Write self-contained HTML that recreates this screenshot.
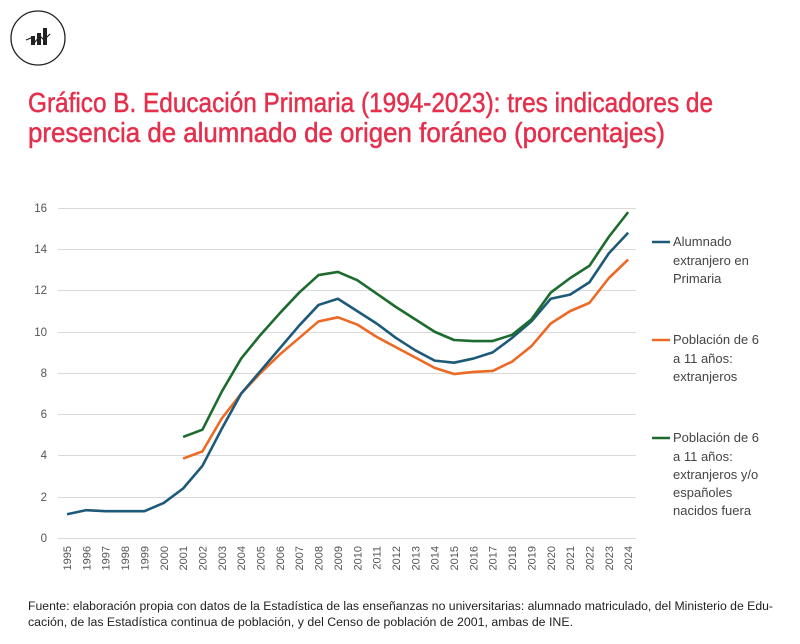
<!DOCTYPE html>
<html><head><meta charset="utf-8"><style>
body{margin:0;background:#fff;width:800px;height:639px;overflow:hidden;font-family:"Liberation Sans",sans-serif}
</style></head><body>
<svg width="800" height="639" viewBox="0 0 800 639" xmlns="http://www.w3.org/2000/svg" font-family="Liberation Sans, sans-serif">
<circle cx="38" cy="38" r="27" fill="none" stroke="#222" stroke-width="1.3"/>
<g fill="#222"><rect x="31" y="36" width="4" height="9"/><rect x="37" y="33" width="4" height="12"/><rect x="43" y="28" width="4" height="17"/></g>
<polyline points="26,40 31,38 35,42 40,36 44,40 50,34" fill="none" stroke="#222" stroke-width="1.2"/>
<g fill="#e5304d" stroke="#e5304d" stroke-width="0.5">
<text x="28" y="112" font-size="28" textLength="685" lengthAdjust="spacingAndGlyphs">Gráfico B. Educación Primaria (1994-2023): tres indicadores de</text>
<text x="28" y="142" font-size="28" textLength="637" lengthAdjust="spacingAndGlyphs">presencia de alumnado de origen foráneo (porcentajes)</text>
</g>
<g stroke="#d9d9d9" stroke-width="1">
<line x1="58" x2="636" y1="208.5" y2="208.5"/><line x1="58" x2="636" y1="249.5" y2="249.5"/><line x1="58" x2="636" y1="290.5" y2="290.5"/><line x1="58" x2="636" y1="332.5" y2="332.5"/><line x1="58" x2="636" y1="373.5" y2="373.5"/><line x1="58" x2="636" y1="414.5" y2="414.5"/><line x1="58" x2="636" y1="455.5" y2="455.5"/><line x1="58" x2="636" y1="497.5" y2="497.5"/><line x1="58" x2="636" y1="538.5" y2="538.5"/>
</g>
<g font-size="11.5" fill="#555" text-anchor="end">
<text x="47" y="212">16</text><text x="47" y="253">14</text><text x="47" y="294">12</text><text x="47" y="336">10</text><text x="47" y="377">8</text><text x="47" y="418">6</text><text x="47" y="459">4</text><text x="47" y="501">2</text><text x="47" y="542">0</text>
</g>
<g font-size="11" fill="#555" text-anchor="end">
<text transform="translate(71,546) rotate(-90)">1995</text><text transform="translate(90.4,546) rotate(-90)">1996</text><text transform="translate(109.7,546) rotate(-90)">1997</text><text transform="translate(129.1,546) rotate(-90)">1998</text><text transform="translate(148.4,546) rotate(-90)">1999</text><text transform="translate(167.8,546) rotate(-90)">2000</text><text transform="translate(187.1,546) rotate(-90)">2001</text><text transform="translate(206.5,546) rotate(-90)">2002</text><text transform="translate(225.8,546) rotate(-90)">2003</text><text transform="translate(245.2,546) rotate(-90)">2004</text><text transform="translate(264.5,546) rotate(-90)">2005</text><text transform="translate(283.9,546) rotate(-90)">2006</text><text transform="translate(303.2,546) rotate(-90)">2007</text><text transform="translate(322.6,546) rotate(-90)">2008</text><text transform="translate(341.9,546) rotate(-90)">2009</text><text transform="translate(361.3,546) rotate(-90)">2010</text><text transform="translate(380.6,546) rotate(-90)">2011</text><text transform="translate(400,546) rotate(-90)">2012</text><text transform="translate(419.3,546) rotate(-90)">2013</text><text transform="translate(438.7,546) rotate(-90)">2014</text><text transform="translate(458,546) rotate(-90)">2015</text><text transform="translate(477.4,546) rotate(-90)">2016</text><text transform="translate(496.7,546) rotate(-90)">2017</text><text transform="translate(516.1,546) rotate(-90)">2018</text><text transform="translate(535.4,546) rotate(-90)">2019</text><text transform="translate(554.8,546) rotate(-90)">2020</text><text transform="translate(574.1,546) rotate(-90)">2021</text><text transform="translate(593.5,546) rotate(-90)">2022</text><text transform="translate(612.8,546) rotate(-90)">2023</text><text transform="translate(632.2,546) rotate(-90)">2024</text>
</g>
<g transform="translate(67,538) scale(19.35,-20.625)" fill="none" stroke-width="2.6" stroke-linejoin="round">
<polyline vector-effect="non-scaling-stroke" stroke="#ec6a25" points="6,3.85 7,4.2 8,5.8 9,7.0 10,8.0 11,8.9 12,9.7 13,10.5 14,10.7 15,10.35 16,9.75 17,9.25 18,8.75 19,8.25 20,7.95 21,8.05 22,8.1 23,8.55 24,9.3 25,10.4 26,11.0 27,11.4 28,12.6 29,13.5"/>
<polyline vector-effect="non-scaling-stroke" stroke="#1d5a79" points="0,1.15 1,1.35 2,1.3 3,1.3 4,1.3 5,1.7 6,2.4 7,3.5 8,5.3 9,7.0 10,8.1 11,9.2 12,10.3 13,11.3 14,11.6 15,11.0 16,10.4 17,9.7 18,9.1 19,8.6 20,8.5 21,8.7 22,9.0 23,9.7 24,10.5 25,11.6 26,11.8 27,12.4 28,13.8 29,14.8"/>
<polyline vector-effect="non-scaling-stroke" stroke="#1e6b2e" points="6,4.9 7,5.25 8,7.1 9,8.7 10,9.85 11,10.9 12,11.9 13,12.75 14,12.9 15,12.5 16,11.85 17,11.2 18,10.6 19,10.0 20,9.6 21,9.55 22,9.55 23,9.85 24,10.6 25,11.9 26,12.6 27,13.2 28,14.6 29,15.8"/>
</g>
<g stroke-width="2.6"><line x1="652" x2="670" y1="242" y2="242" stroke="#1d5a79"/><line x1="652" x2="670" y1="340" y2="340" stroke="#ec6a25"/><line x1="652" x2="670" y1="438" y2="438" stroke="#1e6b2e"/></g>
<g font-size="13" fill="#444">
<text x="673" y="246">Alumnado</text><text x="673" y="265">extranjero en</text><text x="673" y="283">Primaria</text>
<text x="673" y="344">Población de 6</text><text x="673" y="363">a 11 años:</text><text x="673" y="381">extranjeros</text>
<text x="673" y="442">Población de 6</text><text x="673" y="461">a 11 años:</text><text x="673" y="479">extranjeros y/o</text><text x="673" y="497">españoles</text><text x="673" y="515">nacidos fuera</text>
</g>
<g font-size="11.5" fill="#222">
<text x="28" y="610" textLength="745" lengthAdjust="spacingAndGlyphs">Fuente: elaboración propia con datos de la Estadística de las enseñanzas no universitarias: alumnado matriculado, del Ministerio de Edu-</text>
<text x="28" y="626" textLength="545" lengthAdjust="spacingAndGlyphs">cación, de las Estadística continua de población, y del Censo de población de 2001, ambas de INE.</text>
</g>
</svg>
</body></html>
